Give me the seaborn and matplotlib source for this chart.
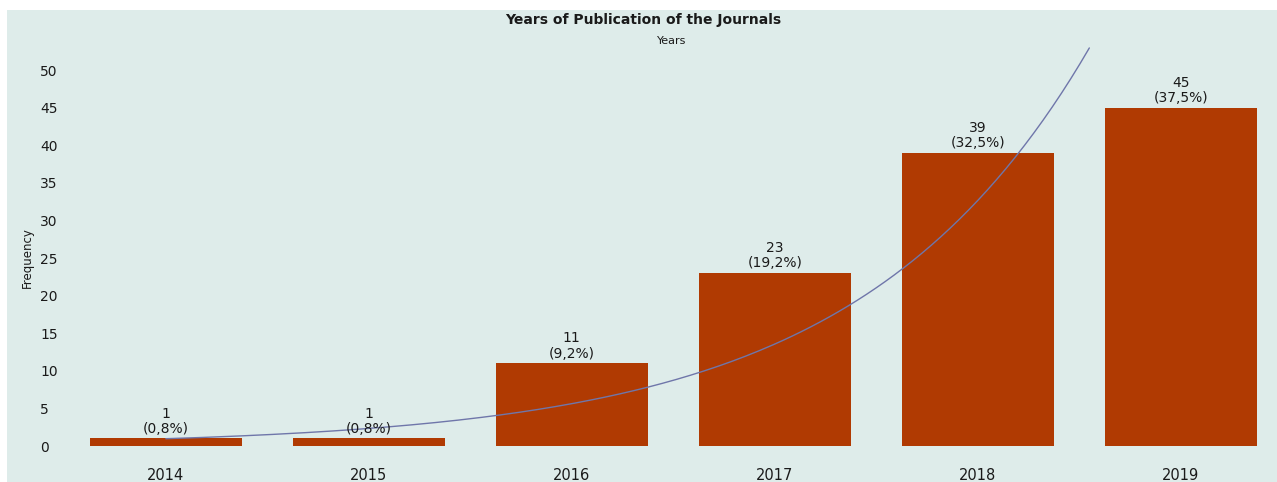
import numpy as np
import pandas as pd
import matplotlib
matplotlib.use("Agg")
import matplotlib.pyplot as plt
import seaborn as sns
from matplotlib.patches import Rectangle

years = ["2014", "2015", "2016", "2017", "2018", "2019"]
counts = [1, 1, 11, 23, 39, 45]
pct_labels = ["0,8%", "0,8%", "9,2%", "19,2%", "32,5%", "37,5%"]
yticks = [0, 5, 10, 15, 20, 25, 30, 35, 40, 45, 50]

sns.set_theme(style="white")
plt.rcParams["font.family"] = ["DejaVu Sans"]

BG = "#deecea"
BAR = "#b03a02"
TXT = "#1a1a1a"

fig = plt.figure(figsize=(12.77, 4.82), dpi=100, facecolor="white")
fig.patches.append(Rectangle((7 / 1277, 0), 1, (482 - 10) / 482,
                             transform=fig.transFigure, facecolor=BG,
                             edgecolor="none", zorder=-10))

ax = fig.add_axes([74.5 / 1277, (482 - 446) / 482, (1272 - 74.5) / 1277, (446 - 32.4) / 482])
ax.set_facecolor("none")
ax.set_zorder(1)

df = pd.DataFrame({"year": years, "count": counts})
sns.barplot(data=df, x="year", y="count", color=BAR, width=0.75,
            saturation=1, linewidth=0, edgecolor="none", ax=ax, zorder=2)

for i, (v, p) in enumerate(zip(counts, pct_labels)):
    ax.annotate(f"{v}\n({p})", (i, v), xytext=(0, 2), textcoords="offset points",
                ha="center", va="bottom", fontsize=10, color=TXT,
                linespacing=1.1, zorder=4)

# exponential trendline (fit on data)
idx = np.arange(len(counts))
b, a = np.polyfit(idx, np.log(counts), 1)
xs = np.linspace(0, 4.55, 200)
ax.plot(xs, np.exp(a + b * xs), color="#6f76aa", lw=1.0, zorder=3)

ax.set_xlim(-0.45, 5.45)
ax.set_ylim(0, 55)
ax.set_yticks(yticks)
ax.set_yticklabels([str(t) for t in yticks], ha="left")
ax.tick_params(axis="y", length=0, pad=24.8, labelsize=10, labelcolor=TXT)
ax.tick_params(axis="x", length=0, pad=15.5, labelsize=10.5, labelcolor=TXT)
ax.set_xlabel("")
ax.set_ylabel("")
for s in ax.spines.values():
    s.set_visible(False)
ax.grid(False)

fig.text(643 / 1277, 1 - 20 / 482, "Years of Publication of the Journals",
         ha="center", va="center", fontsize=10, fontweight="bold", color=TXT)
fig.text(672 / 1277, 1 - 41 / 482, "Years", ha="center", va="center",
         fontsize=8, color=TXT)
fig.text(27 / 1277, 1 - 258 / 482, "Frequency", ha="center", va="center",
         rotation=90, fontsize=8.5, color=TXT, family=["Liberation Sans Narrow", "DejaVu Sans"])

fig.savefig("out.png", dpi=100, facecolor=fig.get_facecolor())
